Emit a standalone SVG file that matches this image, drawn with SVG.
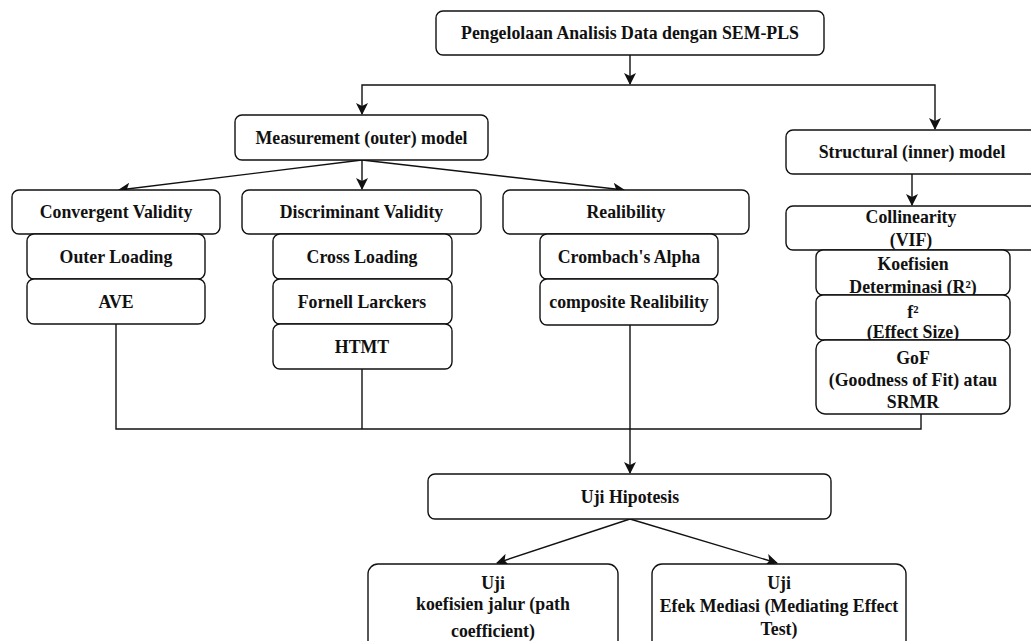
<svg xmlns="http://www.w3.org/2000/svg" width="1031" height="641" viewBox="0 0 1031 641">
<style>
.b{fill:#fff;stroke:#111;stroke-width:1.4}
.t{font-family:"Liberation Serif","Times New Roman",serif;font-weight:bold;font-size:17.8px;fill:#111;text-anchor:middle;dominant-baseline:central}
.c{fill:none;stroke:#111;stroke-width:1.4}
</style>
<defs>
<marker id="a" markerWidth="12" markerHeight="12" refX="11" refY="6" orient="auto" markerUnits="userSpaceOnUse">
<path d="M0,0 L12,6 L0,12 L3,6 z" fill="#111"/>
</marker>
</defs>
<rect width="1031" height="641" fill="#fff"/>
<g id="connectors">
<path class="c" d="M630,55 V84" marker-end="url(#a)"/>
<path class="c" d="M630,85 H362 V114" marker-end="url(#a)"/>
<path class="c" d="M630,85 H935 V129" marker-end="url(#a)"/>
<path class="c" d="M362,160 L119,190" marker-end="url(#a)"/>
<path class="c" d="M362,160 V189" marker-end="url(#a)"/>
<path class="c" d="M362,160 L624,190" marker-end="url(#a)"/>
<path class="c" d="M912,174 V205" marker-end="url(#a)"/>
<path class="c" d="M116,324 V429 H921 V414"/>
<path class="c" d="M362,369 V429"/>
<path class="c" d="M630,325 V473" marker-end="url(#a)"/>
<path class="c" d="M630,519 L497,563" marker-end="url(#a)"/>
<path class="c" d="M630,519 L777,563" marker-end="url(#a)"/>
</g>
<g id="n-top"><rect class="b" x="436" y="11" width="388" height="44" rx="7"/><text class="t" x="630" y="33">Pengelolaan Analisis Data dengan SEM-PLS</text></g>
<g id="n-measurement"><rect class="b" x="235" y="115" width="253" height="45" rx="7"/><text class="t" x="361.5" y="137.5">Measurement (outer) model</text></g>
<g id="n-structural"><rect class="b" x="786" y="130" width="260" height="44" rx="7"/><text class="t" x="912" y="152">Structural (inner) model</text></g>
<g id="n-convergent"><rect class="b" x="12" y="190" width="208" height="44" rx="7"/><text class="t" x="116" y="212">Convergent Validity</text></g>
<g id="n-outer"><rect class="b" x="27" y="234" width="178" height="45" rx="7"/><text class="t" x="116" y="256.5">Outer Loading</text></g>
<g id="n-ave"><rect class="b" x="27" y="279" width="178" height="45" rx="7"/><text class="t" x="116" y="301.5">AVE</text></g>
<g id="n-discriminant"><rect class="b" x="242" y="190" width="239" height="44" rx="7"/><text class="t" x="361.5" y="212">Discriminant Validity</text></g>
<g id="n-cross"><rect class="b" x="273" y="234" width="179" height="45" rx="7"/><text class="t" x="362" y="256.5">Cross Loading</text></g>
<g id="n-fornell"><rect class="b" x="273" y="279" width="179" height="45" rx="7"/><text class="t" x="362" y="301.5">Fornell Larckers</text></g>
<g id="n-htmt"><rect class="b" x="273" y="324" width="179" height="45" rx="7"/><text class="t" x="362" y="346.5">HTMT</text></g>
<g id="n-realibility"><rect class="b" x="503" y="190" width="246" height="44" rx="7"/><text class="t" x="626" y="212">Realibility</text></g>
<g id="n-crombach"><rect class="b" x="540" y="234" width="178" height="45" rx="7"/><text class="t" x="629" y="256.5">Crombach's Alpha</text></g>
<g id="n-composite"><rect class="b" x="540" y="279" width="178" height="46" rx="7"/><text class="t" x="629" y="301.5">composite Realibility</text></g>
<g id="n-collinearity"><rect class="b" x="786" y="206" width="260" height="44" rx="7"/><text class="t" x="911" y="217">Collinearity</text><text class="t" x="911" y="240">(VIF)</text></g>
<g id="n-koefisien"><rect class="b" x="816" y="250" width="194" height="45" rx="7"/><text class="t" x="913" y="264">Koefisien</text><text class="t" x="913" y="287">Determinasi (R²)</text></g>
<g id="n-f2"><rect class="b" x="816" y="295" width="194" height="45" rx="7"/><text class="t" x="913" y="312">f²</text><text class="t" x="913" y="332">(Effect Size)</text></g>
<g id="n-gof"><rect class="b" x="816" y="340" width="194" height="74" rx="9"/><text class="t" x="913" y="358">GoF</text><text class="t" x="913" y="380">(Goodness of Fit) atau</text><text class="t" x="913" y="402">SRMR</text></g>
<g id="n-uji"><rect class="b" x="428" y="474" width="403" height="45" rx="7"/><text class="t" x="630" y="496.5">Uji Hipotesis</text></g>
<g id="n-path"><rect class="b" x="368" y="564" width="250" height="90" rx="10"/><text class="t" x="493" y="583">Uji</text><text class="t" x="493" y="604">koefisien jalur (path</text><text class="t" x="493" y="631">coefficient)</text></g>
<g id="n-mediasi"><rect class="b" x="652" y="564" width="254" height="90" rx="10"/><text class="t" x="779" y="583">Uji</text><text class="t" x="779" y="606">Efek Mediasi (Mediating Effect</text><text class="t" x="779" y="629">Test)</text></g>
</svg>
